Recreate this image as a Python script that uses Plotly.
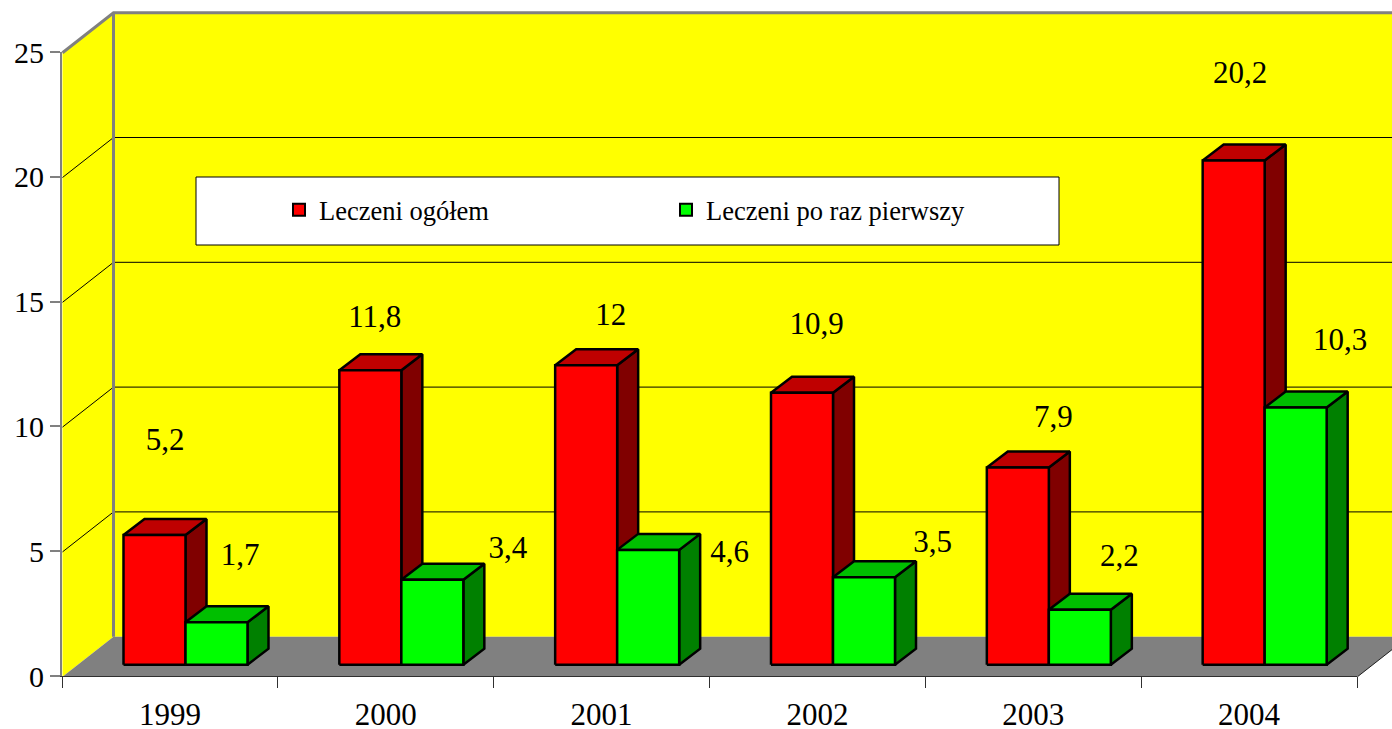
import plotly.graph_objects as go

years = ["1999", "2000", "2001", "2002", "2003", "2004"]
leczeni_ogolem = [5.2, 11.8, 12, 10.9, 7.9, 20.2]
leczeni_pierwszy = [1.7, 3.4, 4.6, 3.5, 2.2, 10.3]
y_ticks = [0, 5, 10, 15, 20, 25]

# hand-placed label offsets from each bar's front top centre, in pixels
red_label_dx = [11, 5, 25, 15, 36, 7]
red_label_dy = [91.5, 50.5, 47.5, 65.5, 47.5, 84.5]
green_label_dx = [24, 76, 82, 69, 40, 45]
green_label_dy = [64.5, 28.5, -5.5, 32.5, 50.5, 64.5]

W, H = 1392, 729
X0, X1, Y0, Y25 = 62, 1357, 676, 52
PX = (X1 - X0) / 6      # pixels per category
PY = (Y0 - Y25) / 25    # pixels per unit
FONT = "Liberation Serif"
NUDGE_X, NUDGE_Y = 0.5, 0.7   # sub-pixel alignment of the drawn box

WALL_DX, WALL_DY = 51 / PX, 40 / PY
BAR_DX, BAR_DY = 21 / PX, 16 / PY
BAR_W = 62 / PX
BAR_L = 61 / PX
BAR_BASE = 12 / PY
XMAX = 6 + WALL_DX


def poly(points):
    xs = [p[0] for p in points] + [points[0][0], None]
    ys = [p[1] for p in points] + [points[0][1], None]
    return xs, ys


def faces(values, shift):
    front, top, side = ([], []), ([], []), ([], [])
    for i, v in enumerate(values):
        l = i + BAR_L + shift
        r = l + BAR_W
        b, t = BAR_BASE, BAR_BASE + v
        for store, pts in (
            (front, [(l, b), (r, b), (r, t), (l, t)]),
            (top, [(l, t), (r, t), (r + BAR_DX, t + BAR_DY), (l + BAR_DX, t + BAR_DY)]),
            (side, [(r, b), (r + BAR_DX, b + BAR_DY), (r + BAR_DX, t + BAR_DY), (r, t)]),
        ):
            xs, ys = poly(pts)
            store[0].extend(xs)
            store[1].extend(ys)
    return front, top, side


def filled(xy, fill, line="black", width=2.5):
    return go.Scatter(x=xy[0], y=xy[1], mode="lines", fill="toself", fillcolor=fill,
                      line=dict(color=line, width=width), hoverinfo="skip", showlegend=False)


def stroke(xs, ys, color, width):
    return go.Scatter(x=xs, y=ys, mode="lines", line=dict(color=color, width=width),
                      hoverinfo="skip", showlegend=False)


fig = go.Figure()

# walls and floor
fig.add_trace(go.Scatter(x=[0, WALL_DX, WALL_DX, 0, 0], y=[0, WALL_DY, 25 + WALL_DY, 25, 0],
                         mode="lines", fill="toself", fillcolor="#FFFF00", line=dict(width=0),
                         hoverinfo="skip", showlegend=False))
fig.add_trace(go.Scatter(x=[WALL_DX, XMAX, XMAX, WALL_DX, WALL_DX],
                         y=[WALL_DY, WALL_DY, 25 + WALL_DY, 25 + WALL_DY, WALL_DY],
                         mode="lines", fill="toself", fillcolor="#FFFF00", line=dict(width=0),
                         hoverinfo="skip", showlegend=False))
fig.add_trace(go.Scatter(x=[0, WALL_DX, XMAX, 6, 0], y=[0, WALL_DY, WALL_DY, 0, 0],
                         mode="lines", fill="toself", fillcolor="#808080", line=dict(width=0),
                         hoverinfo="skip", showlegend=False))

# gridlines
gx, gy = [], []
for t in y_ticks[1:-1]:
    gx += [0, WALL_DX, XMAX, None]
    gy += [t, t + WALL_DY, t + WALL_DY, None]
fig.add_trace(stroke(gx, gy, "#000000", 1))
fig.add_trace(stroke([6, XMAX], [0, WALL_DY], "#202020", 1))

# wall edges
fig.add_trace(stroke([0, WALL_DX, XMAX], [25, 25 + WALL_DY, 25 + WALL_DY], "#808080", 3))
fig.add_trace(stroke([WALL_DX, WALL_DX], [WALL_DY, 25 + WALL_DY], "#808080", 3))

# bars
rf, rt, rs = faces(leczeni_ogolem, 0)
gf, gt, gs = faces(leczeni_pierwszy, BAR_W)
fig.add_trace(filled(rs, "#800000"))
fig.add_trace(filled(rt, "#BF0000"))
fig.add_trace(filled(rf, "#FF0000"))
fig.add_trace(filled(gs, "#008000"))
fig.add_trace(filled(gt, "#00BF00"))
fig.add_trace(filled(gf, "#00FF00"))


def fmt(v):
    return f"{v:g}".replace(".", ",")


# data labels and the real axes, on the overlaid subplot
lx, ly, lt = [], [], []
for i, (a, b) in enumerate(zip(leczeni_ogolem, leczeni_pierwszy)):
    lx.append(i + BAR_L + BAR_W / 2 + red_label_dx[i] / PX)
    ly.append(BAR_BASE + a + red_label_dy[i] / PY)
    lt.append(fmt(a))
    lx.append(i + BAR_L + BAR_W * 1.5 + green_label_dx[i] / PX)
    ly.append(BAR_BASE + b + green_label_dy[i] / PY)
    lt.append(fmt(b))
fig.add_trace(go.Scatter(x=lx, y=ly, text=lt, mode="text", textposition="middle center",
                         textfont=dict(family=FONT, size=31, color="black"),
                         hoverinfo="skip", showlegend=False, cliponaxis=False,
                         xaxis="x2", yaxis="y2"))

# legend entries
for name, color in (("Leczeni ogółem", "#FF0000"), ("Leczeni po raz pierwszy", "#00FF00")):
    fig.add_trace(go.Scatter(x=[None], y=[None], name=name, mode="markers",
                             marker=dict(symbol="square", size=17, color=color,
                                         line=dict(color="black", width=2.5))))

fig.update_layout(
    width=W, height=H, margin=dict(l=0, r=0, t=0, b=0, autoexpand=False), autosize=False,
    paper_bgcolor="white", plot_bgcolor="rgba(0,0,0,0)",
    font=dict(family=FONT, color="black"),
    xaxis=dict(range=[-(X0 + NUDGE_X) / PX, (W - X0 - NUDGE_X) / PX], domain=[0, 1],
               visible=False, fixedrange=True),
    yaxis=dict(range=[(Y0 + NUDGE_Y - H) / PY, (Y0 + NUDGE_Y) / PY], domain=[0, 1],
               visible=False, fixedrange=True),
    xaxis2=dict(range=[0, 6], domain=[X0 / W, X1 / W], anchor="y2", showgrid=False, zeroline=False,
                showline=True, linecolor="#303030", linewidth=1, fixedrange=True,
                tickmode="array", tickvals=[i + 0.5 for i in range(6)], ticktext=years,
                ticks="outside", ticklen=11, tickcolor="rgba(0,0,0,0)",
                tickfont=dict(family=FONT, size=31, color="black"),
                minor=dict(ticks="outside", ticklen=11, tickcolor="#303030", tick0=0, dtick=1,
                           showgrid=False)),
    yaxis2=dict(range=[0, 25], domain=[1 - Y0 / H, 1 - Y25 / H], anchor="x2", showgrid=False,
                zeroline=False, showline=True, linecolor="#808080", linewidth=2, fixedrange=True,
                tickmode="array", tickvals=y_ticks,
                ticks="outside", ticklen=10, tickcolor="#808080", tickwidth=2,
                tickfont=dict(family=FONT, size=30, color="black")),
    shapes=[dict(type="rect", xref="paper", yref="paper", layer="above",
                 x0=196 / W, x1=1059 / W, y0=1 - 245 / H, y1=1 - 177 / H,
                 fillcolor="white", line=dict(color="black", width=1))],
    legend=dict(orientation="h", x=279 / W, xanchor="left", y=1 - 210 / H, yanchor="middle",
                bgcolor="rgba(0,0,0,0)", borderwidth=0, entrywidth=342, entrywidthmode="pixels",
                itemsizing="constant", font=dict(family=FONT, size=26.5, color="black")),
)

fig.write_html("out.html", config=dict(displayModeBar=False),
               post_script="document.body.style.margin='0';document.documentElement.style.overflow='hidden';")
